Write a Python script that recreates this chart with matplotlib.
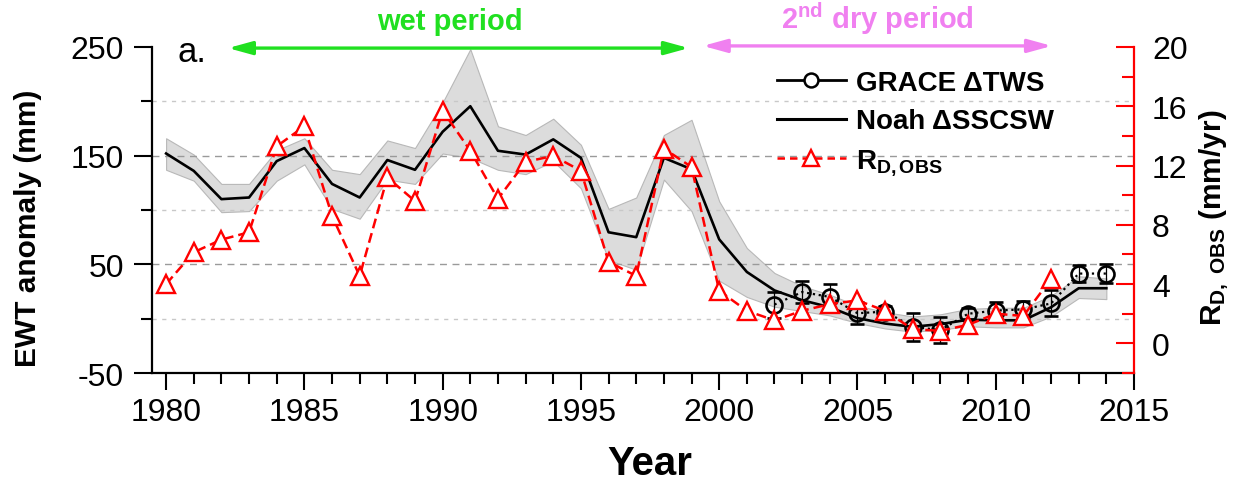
import numpy as np
import matplotlib
matplotlib.use('Agg')
import matplotlib.pyplot as plt
from matplotlib.lines import Line2D
from matplotlib.ticker import MultipleLocator

plt.rcParams['font.family'] = ['Liberation Sans', 'DejaVu Sans']
plt.rcParams['mathtext.fontset'] = 'custom'
plt.rcParams['mathtext.rm'] = 'Liberation Sans'
plt.rcParams['mathtext.bf'] = 'Liberation Sans:bold'
plt.rcParams['mathtext.it'] = 'Liberation Sans:italic'
plt.rcParams['axes.unicode_minus'] = False

# ---- data ----
years = list(range(1980, 2015))
noah = [152, 136, 110, 111.5, 145, 157, 124, 111.5, 146, 137, 172, 195.5, 154.5, 151, 165, 148,
        79.5, 75, 148, 137.5, 73, 43, 26, 17, 10.5, 0.5, -4.5, -7.5, -5, -1, -1.5, -1.5, 10.5, 28, 28]
noah_hi = [166, 151, 124, 124, 155, 166, 137, 133, 164, 157, 199, 248, 177, 169, 184, 160,
           101, 111.5, 169, 183, 108, 65, 42, 30, 22, 12, 6, 2, 4, 9, 10, 10, 21, 39, 37]
noah_lo = [137, 127, 98, 99, 127, 142, 101, 92, 128, 124, 152, 148, 137, 133, 145, 120,
           54, 45, 128, 99, 35, 20, 11, 7, 3, -4, -9, -12, -10, -7, -8, -8, 2, 19, 18]

grace_years = list(range(2002, 2015))
grace = [13, 24.5, 20, 5, 6.5, -7.5, -10.5, 4.5, 7.5, 8.5, 14, 41.5, 41.5]
grace_err = [12, 10, 12, 10, 5, 13, 12, 5, 7.5, 8, 12, 8, 9]

rd_years = list(range(1980, 2013))
rd = [4.0, 6.15, 7.0, 7.5, 13.3, 14.65, 8.6, 4.55, 11.2, 9.6, 15.7, 13.0, 9.75, 12.25, 12.65, 11.65,
      5.5, 4.55, 13.15, 11.9, 3.55, 2.2, 1.55, 2.2, 2.65, 2.9, 2.2, 0.95, 0.85, 1.25, 2.0, 1.85, 4.35]

wet_period = (1982.24, 1998.9)
dry_period = (1999.41, 2012.03)

green = '#20e020'
pink = '#f080f0'

fig = plt.figure(figsize=(12.43, 4.81), dpi=100)
ax = fig.add_axes([152/1243, 1-374/481, (1134-152)/1243, (374-48)/481])

# band + Noah line
ax.fill_between(years, noah_lo, noah_hi, color='#dcdcdc', edgecolor='#b8b8b8', lw=0.8, zorder=1)
ax.plot(years, noah, color='k', lw=1.9, zorder=3)
# GRACE
ax.errorbar(grace_years, grace, yerr=grace_err, fmt='o', ls=':', color='k', lw=1.6,
            mfc='none', mec='k', ms=11.5, mew=1.9, ecolor='k', elinewidth=0.9,
            capsize=5, capthick=0.9, zorder=4)

ax.set_xlim(1979.49, 2015.0)
ax.set_ylim(-50, 250)
ax.set_yticks([-50, 50, 150, 250])
ax.set_yticks([0, 100, 200], minor=True)
ax.xaxis.set_major_locator(MultipleLocator(5))
ax.xaxis.set_minor_locator(MultipleLocator(1))
ax.tick_params(axis='both', which='major', direction='out', length=13, width=1.5, labelsize=23)
ax.tick_params(axis='both', which='minor', direction='out', length=8, width=1.5)
ax.tick_params(axis='y', which='major', pad=7)
ax.tick_params(axis='x', which='major', length=12, pad=5)
ax.grid(axis='y', which='major', ls=(0, (5, 4)), color='#9a9a9a', lw=1.0)
ax.grid(axis='y', which='minor', ls=(0, (3, 4)), color='#c8c8c8', lw=1.0)
ax.get_ygridlines()[-1].set_visible(False)
ax.spines['top'].set_visible(False)
ax.spines['right'].set_visible(False)
for s in ['left', 'bottom']:
    ax.spines[s].set_linewidth(1.6)

ax.set_ylabel('EWT anomaly (mm)', fontsize=21.5, fontweight='bold')
ax.yaxis.set_label_coords(-0.112, 0.447)
fig.text(650/1243, 1-475/481, 'Year', ha='center', va='baseline', fontsize=29, fontweight='bold')

# right axis
ax2 = ax.twinx()
ax2.plot(rd_years, rd, color='red', ls=(0, (4, 2)), lw=1.8, marker='^', ms=13,
         mfc='white', mec='red', mew=1.7, zorder=5)
ax2.set_ylim(-2, 20)
ax2.yaxis.set_major_locator(MultipleLocator(4))
ax2.yaxis.set_minor_locator(MultipleLocator(2))
ax2.tick_params(axis='y', which='major', direction='in', length=13, width=1.5, color='red',
                labelcolor='black', labelsize=23, pad=13)
ax2.tick_params(axis='y', which='minor', direction='in', length=9, width=1.5, color='red')
for s in ['top', 'left', 'bottom']:
    ax2.spines[s].set_visible(False)
ax2.spines['right'].set_color('red')
ax2.spines['right'].set_linewidth(1.6)
ax2.set_ylabel(r'$\mathbf{R_{D,\ OBS}}$ (mm/yr)', fontsize=21.5, fontweight='bold')
ax2.yaxis.set_label_coords(1.065, 0.478)

# period arrows
ax.annotate('', xy=(wet_period[1], 249), xytext=(wet_period[0], 249), annotation_clip=False,
            arrowprops=dict(arrowstyle='<|-|>,head_length=0.8,head_width=0.22', color=green,
                            lw=2.4, mutation_scale=18, shrinkA=0, shrinkB=0))
ax.annotate('', xy=(dry_period[1], 251), xytext=(dry_period[0], 251), annotation_clip=False,
            arrowprops=dict(arrowstyle='<|-|>,head_length=0.8,head_width=0.22', color=pink,
                            lw=2.4, mutation_scale=18, shrinkA=0, shrinkB=0))
fig.text(450/1243, 1-30/481, 'wet period', color=green, ha='center', va='baseline',
         fontsize=21, fontweight='bold')
fig.text(877/1243, 1-29/481, r'2$^{\mathbf{nd}}$ dry period', color=pink, ha='center',
         va='baseline', fontsize=21, fontweight='bold')
ax.text(1980.43, 237, 'a.', fontsize=25, ha='left', va='baseline')

# legend
handles = [
    Line2D([], [], color='k', lw=2, marker='o', mfc='white', mec='k', ms=10, mew=1.8),
    Line2D([], [], color='k', lw=2.2),
    Line2D([], [], color='red', ls=(0, (3, 2)), lw=1.8, marker='^', ms=12, mfc='white',
           mec='red', mew=1.7),
]
labels = [u'GRACE \u0394TWS', u'Noah \u0394SSCSW', r'$\mathbf{R_{D,OBS}}$']
leg = ax2.legend(handles, labels, loc='upper left', bbox_to_anchor=(0.636, 0.93),
                 frameon=False, handlelength=2.5, handletextpad=0.35, labelspacing=0.45,
                 borderpad=0, borderaxespad=0,
                 prop={'size': 20, 'weight': 'bold'})

fig.savefig('out.png', dpi=100)
